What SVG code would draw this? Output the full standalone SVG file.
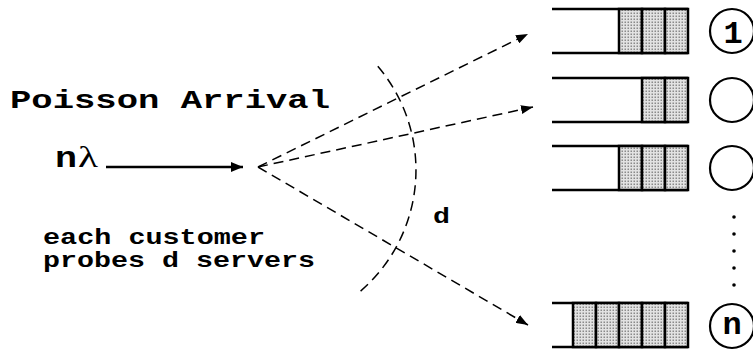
<svg xmlns="http://www.w3.org/2000/svg" width="753" height="350" viewBox="0 0 753 350">
<style>
  .txt { font-family: "Liberation Mono", "Courier New", monospace; font-weight: bold; fill: #000; }
  .sym { font-family: "Liberation Serif", "Times New Roman", serif; fill: #000; }
  .qline { stroke: #000; stroke-width: 2.5; fill: none; }
  .cell { fill: url(#stipple); stroke: #000; stroke-width: 2.5; }
  .server { fill: #fff; stroke: #000; stroke-width: 2.2; }
  .dash { stroke: #000; stroke-width: 1.5; fill: none; stroke-dasharray: 10 6; }
  .solid { stroke: #000; stroke-width: 2.5; fill: none; }
</style>
<defs>
  <pattern id="stipple" width="3" height="3" patternUnits="userSpaceOnUse">
    <rect width="3" height="3" fill="#e2e2e2"/>
    <rect x="0.5" y="0.5" width="1.5" height="1.5" fill="#8a8a8a"/>
  </pattern>
  <marker id="ah" viewBox="0 0 12 10" refX="12" refY="5" markerWidth="12" markerHeight="10" markerUnits="userSpaceOnUse" orient="auto">
    <path d="M0,0 L12,5 L0,10 z" fill="#000"/>
  </marker>
  <marker id="ahs" viewBox="0 0 12 9" refX="12" refY="4.5" markerWidth="12" markerHeight="9" markerUnits="userSpaceOnUse" orient="auto">
    <path d="M0,0 L12,4.5 L0,9 z" fill="#000"/>
  </marker>
</defs>
<rect width="753" height="350" fill="#fff"/>

<g id="labels">
  <text class="txt" x="10" y="108" font-size="26" textLength="320" lengthAdjust="spacingAndGlyphs">Poisson Arrival</text>
  <text class="txt" x="55" y="167" font-size="29" textLength="22" lengthAdjust="spacingAndGlyphs">n</text>
  <text class="sym" x="78" y="167" font-size="30" textLength="20" lengthAdjust="spacingAndGlyphs">λ</text>
  <text class="txt" x="43" y="244" font-size="22" textLength="222" lengthAdjust="spacingAndGlyphs">each customer</text>
  <text class="txt" x="43" y="267" font-size="22" textLength="272" lengthAdjust="spacingAndGlyphs">probes d servers</text>
  <text class="txt" x="433" y="223" font-size="22" textLength="17" lengthAdjust="spacingAndGlyphs">d</text>
</g>

<g id="connectors">
  <line class="solid" x1="106" y1="167" x2="243" y2="167" marker-end="url(#ah)"/>
  <line class="dash" x1="258" y1="167" x2="528" y2="34" marker-end="url(#ahs)"/>
  <line class="dash" x1="258" y1="167" x2="533" y2="107" marker-end="url(#ahs)"/>
  <line class="dash" x1="258" y1="167" x2="528" y2="325" marker-end="url(#ahs)"/>
  <path class="dash" d="M377.8,66.3 A160,160 0 0 1 358.2,293.1"/>
</g>

<g id="queue1">
  <path class="qline" d="M552,9 H688 M552,53 H688"/>
  <rect class="cell" x="619" y="9" width="23" height="44"/>
  <rect class="cell" x="642" y="9" width="23" height="44"/>
  <rect class="cell" x="665" y="9" width="23" height="44"/>
</g>
<g id="queue2">
  <path class="qline" d="M552,78 H688 M552,122 H688"/>
  <rect class="cell" x="642" y="78" width="23" height="44"/>
  <rect class="cell" x="665" y="78" width="23" height="44"/>
</g>
<g id="queue3">
  <path class="qline" d="M552,146 H688 M552,190 H688"/>
  <rect class="cell" x="619" y="146" width="23" height="44"/>
  <rect class="cell" x="642" y="146" width="23" height="44"/>
  <rect class="cell" x="665" y="146" width="23" height="44"/>
</g>
<g id="queueN">
  <path class="qline" d="M552,303 H688 M552,347 H688"/>
  <rect class="cell" x="573" y="303" width="23" height="44"/>
  <rect class="cell" x="596" y="303" width="23" height="44"/>
  <rect class="cell" x="619" y="303" width="23" height="44"/>
  <rect class="cell" x="642" y="303" width="23" height="44"/>
  <rect class="cell" x="665" y="303" width="23" height="44"/>
</g>

<g id="server1">
  <circle class="server" cx="732" cy="31" r="22"/>
  <text class="txt" x="733" y="43" font-size="32" text-anchor="middle">1</text>
</g>
<g id="server2">
  <circle class="server" cx="732" cy="100" r="22"/>
</g>
<g id="server3">
  <circle class="server" cx="732" cy="168" r="22"/>
</g>
<g id="ellipsis">
  <circle cx="734" cy="217" r="1.8" fill="#000"/>
  <circle cx="734" cy="234" r="1.8" fill="#000"/>
  <circle cx="734" cy="251" r="1.8" fill="#000"/>
  <circle cx="734" cy="268" r="1.8" fill="#000"/>
  <circle cx="734" cy="285" r="1.8" fill="#000"/>
</g>
<g id="serverN">
  <circle class="server" cx="732" cy="326" r="22"/>
  <text class="txt" x="732" y="334" font-size="32" text-anchor="middle">n</text>
</g>
</svg>
